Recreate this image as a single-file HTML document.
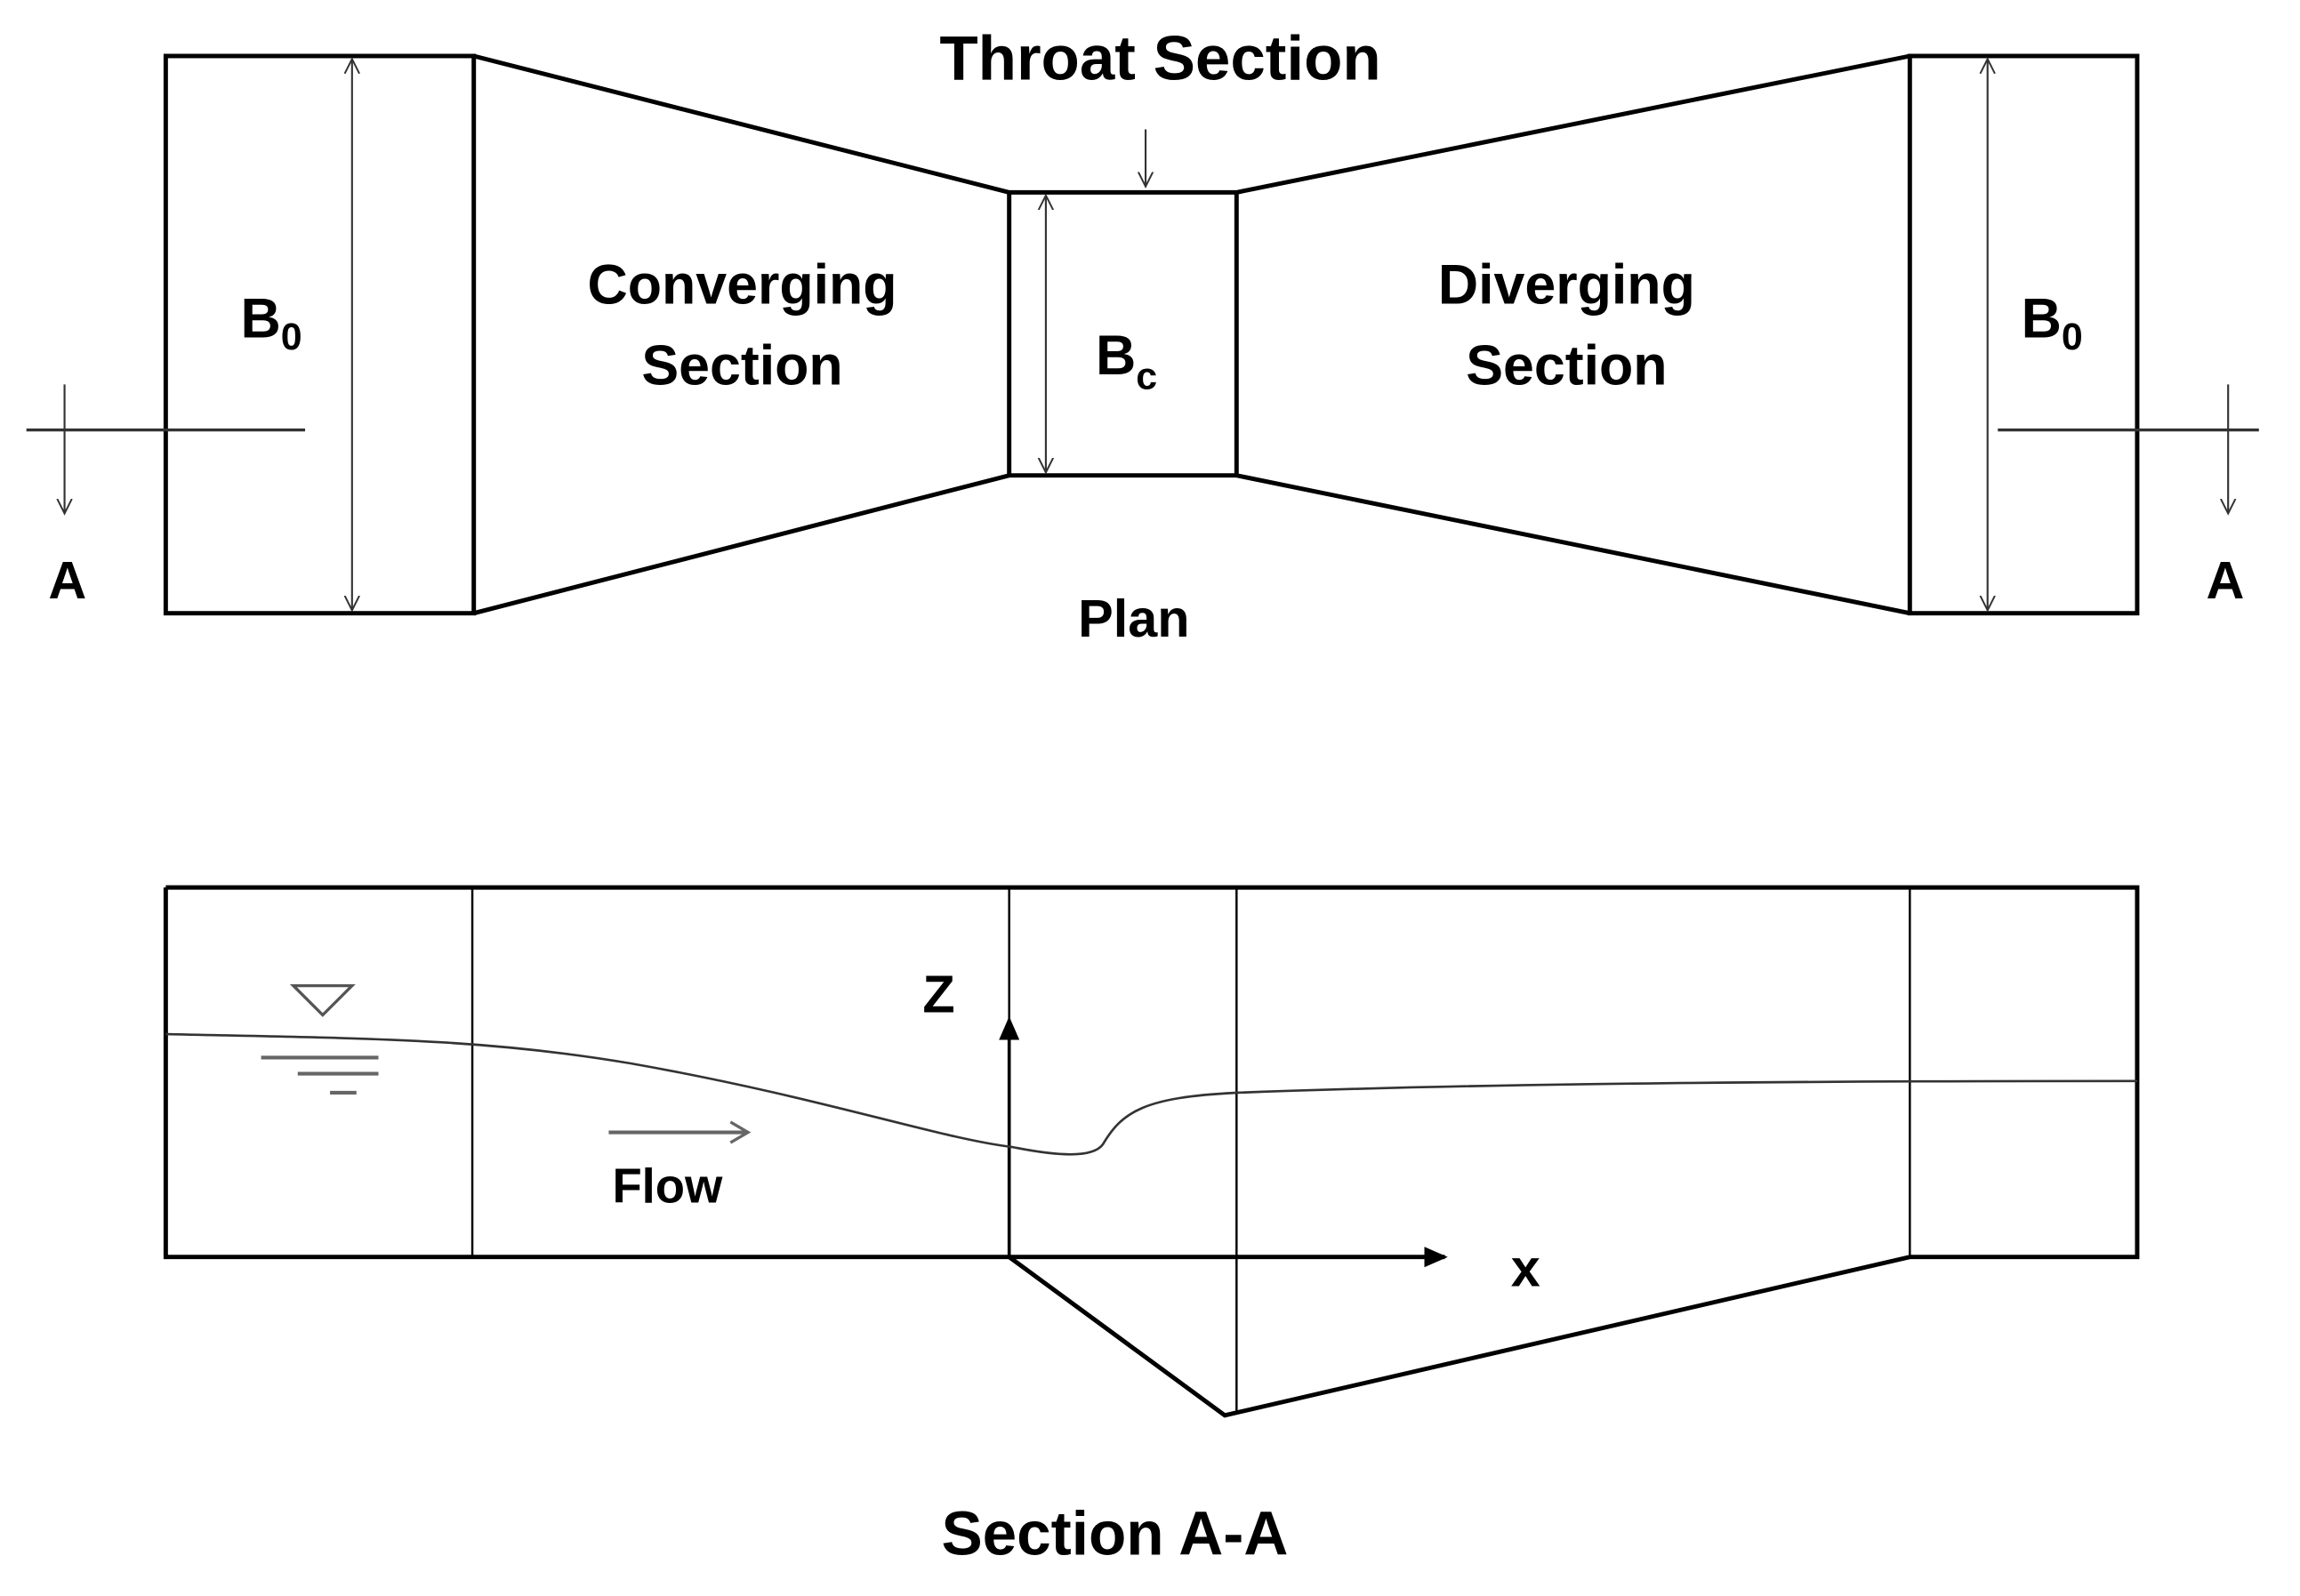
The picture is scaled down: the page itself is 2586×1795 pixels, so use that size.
<!DOCTYPE html>
<html><head><meta charset="utf-8"><style>html,body{margin:0;padding:0;background:#fff}svg{display:block}</style></head>
<body>
<svg width="2586" height="1795" viewBox="0 0 1568 1088" xmlns="http://www.w3.org/2000/svg" font-family="Liberation Sans, sans-serif" font-weight="bold">
<defs>
<marker id="oa" markerWidth="12" markerHeight="12" refX="10" refY="6" orient="auto-start-reverse" markerUnits="userSpaceOnUse"><path d="M0,1 L10,6 L0,11" fill="none" stroke="#333" stroke-width="1.2"/></marker>
<marker id="fa" markerWidth="16" markerHeight="14" refX="14" refY="7" orient="auto" markerUnits="userSpaceOnUse"><path d="M0,0 L16,7 L0,14 Z" fill="#000"/></marker>
</defs>
<g fill="none" stroke="#000" stroke-width="3" stroke-linejoin="miter">
<!-- Plan -->
<rect x="113" y="38" width="210" height="380"/>
<polyline points="323,38 688,131 843,131 1302,38"/>
<polyline points="323,418 688,324 843,324 1302,418"/>
<line x1="688" y1="131" x2="688" y2="324"/>
<line x1="843" y1="131" x2="843" y2="324"/>
<rect x="1302" y="38" width="155" height="380"/>
</g>
<g fill="none" stroke="#333" stroke-width="1.3">
<line x1="240" y1="40" x2="240" y2="416" marker-start="url(#oa)" marker-end="url(#oa)"/>
<line x1="1355" y1="40" x2="1355" y2="416" marker-start="url(#oa)" marker-end="url(#oa)"/>
<line x1="713" y1="133" x2="713" y2="322" marker-start="url(#oa)" marker-end="url(#oa)"/>
<line x1="781" y1="88" x2="781" y2="127" marker-end="url(#oa)"/>
<line x1="18" y1="293" x2="208" y2="293" stroke-width="2"/>
<line x1="44" y1="262" x2="44" y2="350" marker-end="url(#oa)"/>
<line x1="1362" y1="293" x2="1540" y2="293" stroke-width="2"/>
<line x1="1519" y1="262" x2="1519" y2="350" marker-end="url(#oa)"/>
</g>
<g fill="#000" text-anchor="middle">
<text x="791" y="54" font-size="43">Throat Section</text>
<text x="506" y="207" font-size="38">Converging</text>
<text x="506" y="262" font-size="38">Section</text>
<text x="1068" y="207" font-size="38">Diverging</text>
<text x="1068" y="262" font-size="38">Section</text>
<text x="46" y="408" font-size="36">A</text>
<text x="1517" y="408" font-size="36">A</text>
<text x="773" y="434" font-size="36">Plan</text>
<text x="760" y="1060" font-size="42">Section A-A</text>
<text x="455" y="820" font-size="33">Flow</text>
<text x="640" y="690" font-size="36">Z</text>
<text x="1040" y="877" font-size="36">x</text>
</g>
<g fill="#000" font-size="38">
<text x="164" y="230">B<tspan font-size="26" dy="8">0</tspan></text>
<text x="1378" y="230">B<tspan font-size="26" dy="8">0</tspan></text>
<text x="747" y="255">B<tspan font-size="26" dy="10">c</tspan></text>
</g>
<!-- Section A-A -->
<g fill="none" stroke="#000" stroke-width="3">
<polyline points="113,605 1457,605 1457,857 1302,857 835,965 688,857 113,857 113,605"/>
<line x1="688" y1="857" x2="985" y2="857" marker-end="url(#fa)"/>
<line x1="688" y1="857" x2="688" y2="695" stroke-width="2.2" marker-end="url(#fa)"/>
</g>
<g fill="none" stroke="#000" stroke-width="1.5">
<line x1="322" y1="605" x2="322" y2="857"/>
<line x1="688" y1="605" x2="688" y2="700"/>
<line x1="843" y1="605" x2="843" y2="962"/>
<line x1="1302" y1="605" x2="1302" y2="857"/>
<path d="M113,705 C250,708 330,708 430,725 C560,748 640,776 690,782 C720,788 745,790 752,780 C765,758 780,748 843,745 C1000,739 1200,737 1457,737" stroke="#333" stroke-width="1.6"/>
<path d="M200,672 L240,672 L220,692 Z" stroke="#555" stroke-width="2"/>
<line x1="178" y1="721" x2="258" y2="721" stroke="#666" stroke-width="2.5"/>
<line x1="203" y1="732" x2="258" y2="732" stroke="#666" stroke-width="2.5"/>
<line x1="225" y1="745" x2="243" y2="745" stroke="#666" stroke-width="2.5"/>
<line x1="415" y1="772" x2="508" y2="772" stroke="#666" stroke-width="2.5"/>
<path d="M498,765 L510,772 L498,779" stroke="#666" stroke-width="2"/>
</g>
</svg>
</body></html>
